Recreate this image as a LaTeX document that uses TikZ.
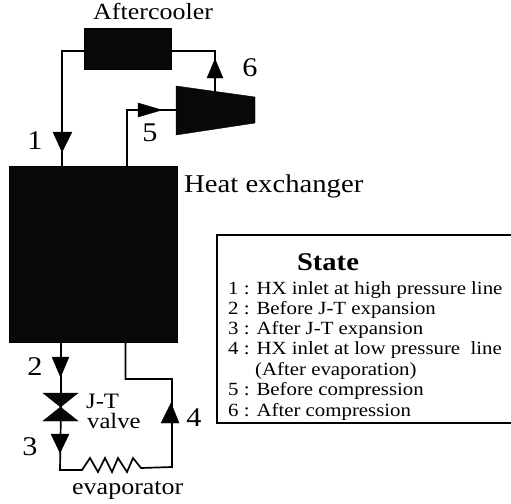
\documentclass[tikz,border=0pt]{standalone}
\usepackage{fontspec}
\setmainfont[FakeStretch=1.12]{Liberation Serif}
\tikzset{
 pipe/.style={line width=1.7pt,line join=miter},
 solid block/.style={fill=black!97,draw=black},
 tip/.style={fill=black,draw=black,line width=0.4pt},
 lab/.style={font=\fontsize{27}{27}\selectfont,inner sep=0pt},
 txt/.style={font=\fontsize{23.2}{23.2}\selectfont,inner sep=0pt,anchor=base west},
 st/.style={font=\fontsize{18.6}{18.6}\selectfont,inner sep=0pt,anchor=base west},
}
\begin{document}
\begin{tikzpicture}[x=1pt,y=-1pt]
\useasboundingbox (0,0) rectangle (511,503);
\fill[white] (0,0) rectangle (511,503);
% blocks
\node[solid block,minimum width=87pt,minimum height=41pt,inner sep=0pt] (cooler) at (127.5,48.5) {};
\node[solid block,minimum width=168pt,minimum height=176pt,inner sep=0pt] (hx) at (93,254) {};
\draw[solid block] (176,86) -- (255,97) -- (255,123) -- (176,135) -- cycle;
\coordinate (compL) at (176,110);
\coordinate (compT) at (215,92);
% valve
\draw[solid block,line width=0.4pt] (43,393) -- (78,393) -- (43,421) -- (78,421) -- cycle;
\coordinate (valve) at (61,407);
% pipes
\coordinate (c1) at (62,51);
\coordinate (c6) at (215,51);
\coordinate (c5) at (127,110);
\coordinate (hxa) at (62,166);
\coordinate (hxb) at (127,166);
\coordinate (hxc) at (61,342);
\coordinate (hxd) at (125.5,342);
\draw[pipe] (cooler.west |- c1) -- (c1) -- (hxa);
\draw[pipe] (cooler.east |- c6) -- (c6) -- (compT);
\draw[pipe] (hxb) -- (c5) -- (compL);
\draw[pipe] (hxc) -- (valve);
\draw[pipe] (valve) -- (60,470) -- (82,470)
  -- (90,458) -- (98,472) -- (105,458) -- (112,472) -- (118,458) -- (127,472) -- (133,458) -- (141,468)
  -- (172,467) -- (172,379) -- (125.5,379) -- (hxd);
% arrowheads
\fill[tip] (53,132) -- (72,132) -- (62,152) -- cycle;
\fill[tip] (207,78) -- (223,78) -- (215,59) -- cycle;
\fill[tip] (138,103) -- (138,117) -- (162,110) -- cycle;
\fill[tip] (52,357) -- (69,357) -- (60.5,377) -- cycle;
\fill[tip] (51,434) -- (69,434) -- (60,453) -- cycle;
\fill[tip] (161,423) -- (179,423) -- (171,403) -- cycle;
% labels
\node[txt] (a) at (93,20) {Aftercooler};
\node[txt,font=\fontsize{25.6}{25.6}\selectfont] (h) at (184,192) {Heat exchanger};
\node[lab] (l1) at (35,141) {1};
\node[lab] (l2) at (35,367) {2};
\node[lab] (l3) at (30,447) {3};
\node[lab] (l4) at (194,418) {4};
\node[lab] (l5) at (150,133) {5};
\node[lab] (l6) at (250,68) {6};
\node[txt,font=\fontsize{22}{22}\selectfont] (jt) at (86,408) {J-T};
\node[txt,font=\fontsize{22}{22}\selectfont] (jv) at (87,428) {valve};
\node[txt] (ev) at (72,494) {evaporator};
% legend
\draw[line width=1.2pt] (511,235) -- (217,235) -- (217,423) -- (511,423);
\node[inner sep=0pt,anchor=base,font=\fontsize{25.5}{25.5}\selectfont\bfseries] (state) at (328,270) {State};
\node[st] (s1) at (228,294) {1 : HX inlet at high pressure line};
\node[st] (s2) at (228,314.3) {2 : Before J-T expansion};
\node[st] (s3) at (228,334.6) {3 : After J-T expansion};
\node[st] (s4) at (228,354.9) {4 : HX inlet at low pressure\ \ line};
\node[st] (s4b) at (255,375.2) {(After evaporation)};
\node[st] (s5) at (228,395.5) {5 : Before compression};
\node[st] (s6) at (228,416) {6 : After compression};
\end{tikzpicture}
\end{document}
